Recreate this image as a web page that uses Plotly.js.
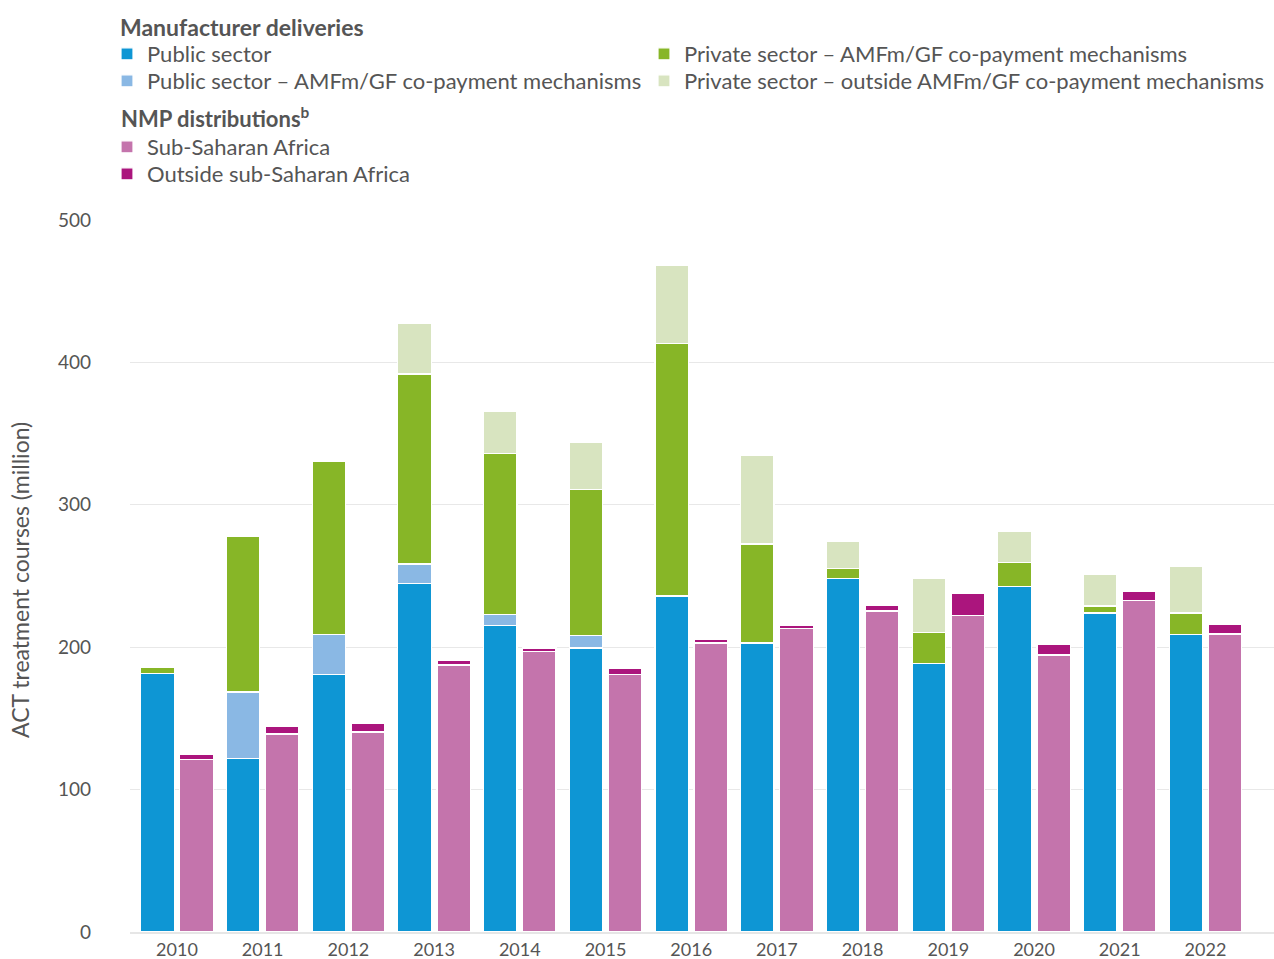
<!DOCTYPE html>
<html>
<head>
<meta charset="utf-8">
<script src="https://cdn.plot.ly/plotly-3.0.1.min.js"></script>
<style>html,body{margin:0;padding:0;background:#fff;}#chart{width:1274px;height:959px;}</style>
</head>
<body>
<div id="chart"></div>
<script>
const years = [2010, 2011, 2012, 2013, 2014, 2015, 2016, 2017, 2018, 2019, 2020, 2021, 2022];
// Manufacturer deliveries (million)
const publicSector     = [181.6, 122, 181, 245, 215, 199.5, 236, 203, 248.4, 188.7, 242.5, 224, 209];
const publicAMFm       = [0, 46.5, 28, 13.4, 7.7, 9, 0, 0, 0, 0, 0, 0, 0];
const privateAMFm      = [4.3, 109, 121.5, 133.5, 113.6, 102, 177, 69.5, 7, 21.5, 17, 5, 15];
const privateOutside   = [0, 0, 0, 35.8, 29.2, 33.5, 55, 62.5, 18.6, 38.2, 21.5, 22, 33];
// NMP distributions (million)
const nmpSSA           = [121, 139, 140.4, 187.5, 197, 181, 203, 213, 225.4, 222, 194.5, 233, 209.3];
const nmpOutside       = [4, 5.7, 6.3, 3.5, 2.4, 4, 2.3, 2.6, 3.8, 16, 7.5, 6, 6.5];

const names = {
  pub: 'Public sector',
  pubA: 'Public sector – AMFm/GF co-payment mechanisms',
  privA: 'Private sector – AMFm/GF co-payment mechanisms',
  privO: 'Private sector – outside AMFm/GF co-payment mechanisms',
  ssa: 'Sub-Saharan Africa',
  out: 'Outside sub-Saharan Africa'
};
const headings = ['Manufacturer deliveries', 'NMP distributions<sup>b</sup>'];
const yTitle = 'ACT treatment courses (million)';

const OFF = 0.228, W = 0.389;
const xM = years.map(y => y - OFF);
const xN = years.map(y => y + OFF);
const line = {color: '#ffffff', width: 1.2};

function bar(x, y, name, color, legend) {
  return {type: 'bar', x: x, y: y, name: name, width: W, legend: legend,
          marker: {color: color, line: line}, hoverinfo: 'x+y+name'};
}

const data = [
  bar(xM, publicSector, names.pub, '#0e96d4', 'legend'),
  bar(xM, publicAMFm, names.pubA, '#8ab8e4', 'legend2'),
  bar(xM, privateAMFm, names.privA, '#87b627', 'legend3'),
  bar(xM, privateOutside, names.privO, '#d8e4c0', 'legend4'),
  bar(xN, nmpSSA, names.ssa, '#c474ac', 'legend5'),
  bar(xN, nmpOutside, names.out, '#ab157d', 'legend6')
];

const FONT = 'Lato, "Source Sans Pro", Roboto, sans-serif';
const GREY = '#555555';
function leg(xpx, toppx) {
  return {
    xref: 'container', yref: 'container', xanchor: 'left', yanchor: 'top',
    x: xpx / 1274, y: 1 - toppx / 959,
    orientation: 'v', bgcolor: 'rgba(0,0,0,0)', traceorder: 'normal',
    font: {family: FONT, size: 22, color: GREY},
    itemclick: false, itemdoubleclick: false, tracegroupgap: 0
  };
}

const layout = {
  width: 1274, height: 959,
  margin: {l: 130, r: 0, t: 220, b: 27, pad: 0, autoexpand: false},
  paper_bgcolor: '#ffffff', plot_bgcolor: '#ffffff',
  barmode: 'stack',
  font: {family: FONT, color: GREY},
  showlegend: true,
  legend: leg(107, 33),
  legend2: leg(107, 60),
  legend3: leg(644, 33),
  legend4: leg(644, 60),
  legend5: leg(107, 126),
  legend6: leg(107, 153),
  annotations: [
    {text: '<b>' + headings[0] + '</b>', xref: 'paper', yref: 'paper', x: -12 / 1144, y: 1 + (220 - 27) / 712,
     xanchor: 'left', yanchor: 'middle', showarrow: false, font: {family: FONT, size: 23, color: GREY}},
    {text: '<b>' + headings[1] + '</b>', xref: 'paper', yref: 'paper', x: -11 / 1144, y: 1 + (220 - 118) / 712,
     xanchor: 'left', yanchor: 'middle', showarrow: false, font: {family: FONT, size: 22, color: GREY}},
    {text: yTitle, xref: 'paper', yref: 'paper', x: (20 - 130) / 1144, y: 0.5 - (580 - 576) / 712,
     xanchor: 'center', yanchor: 'middle', textangle: -90, showarrow: false, font: {family: FONT, size: 23, color: GREY}}
  ],
  xaxis: {
    range: [2009.452, 2022.8],
    tickmode: 'array', tickvals: years, ticktext: years.map(String),
    showgrid: false, zeroline: false,
    showline: true, linecolor: '#e6e6e6', linewidth: 2,
    ticks: '', tickfont: {family: FONT, size: 18, color: GREY},
    automargin: false, fixedrange: true
  },
  yaxis: {
    range: [0, 500], tickmode: 'array', tickvals: [0, 100, 200, 300, 400, 500],
    showgrid: true, gridcolor: '#e8e8e8', gridwidth: 1.3,
    zeroline: false, ticks: '', ticklabelstandoff: 38,
    tickfont: {family: FONT, size: 19, color: GREY},
    automargin: false, fixedrange: true
  }
};

Plotly.newPlot('chart', data, layout, {displayModeBar: false, staticPlot: true});
</script>
</body>
</html>
